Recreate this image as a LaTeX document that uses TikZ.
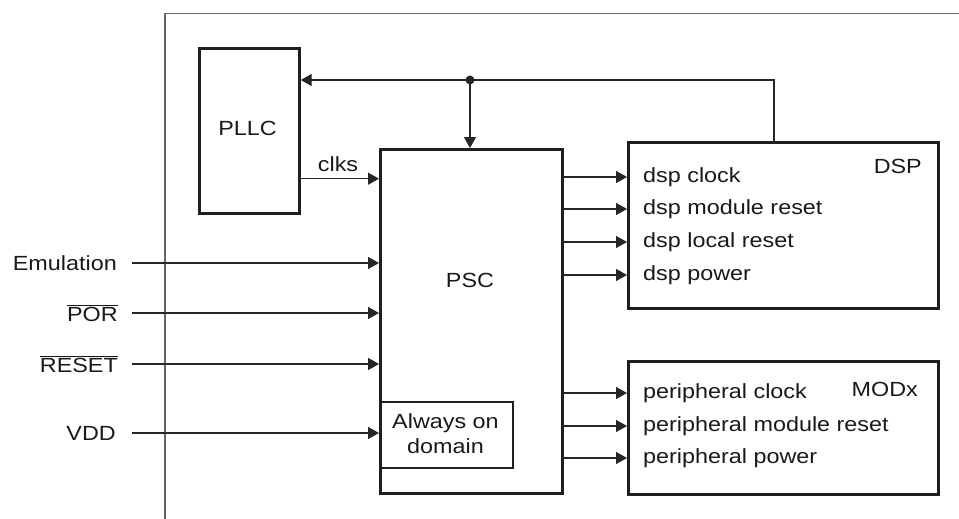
\documentclass[tikz,border=0pt]{standalone}
\usepackage{fontspec}
\setmainfont[FakeStretch=1.14]{Liberation Sans}
\usetikzlibrary{arrows.meta}
\newcommand{\myovl}[1]{$\overline{\hbox{#1}}$}
\begin{document}
\begin{tikzpicture}[x=1pt,y=-1pt,
  box/.style={draw=black!88, line width=3.2pt, anchor=north west, inner sep=0pt},
  thinbox/.style={draw=black!88, line width=2.2pt, anchor=north west, inner sep=0pt},
  lbl/.style={inner sep=0pt, text=black!90, font=\fontsize{20.5}{25}\selectfont},
  wire/.style={draw=black!85, line width=1.4pt},
  arr/.style={wire, -{Triangle[length=11pt,width=12pt]}},
  chip/.style={draw=black!60, line width=1.3pt}]
\useasboundingbox (0,0) rectangle (959,519);
% chip boundary
\coordinate (cbot) at (165,519);
\coordinate (ccorner) at (165,13.5);
\coordinate (cright) at (959,13.5);
\draw[chip] (cbot) -- (ccorner) -- (cright);
% blocks
\node[box, minimum width=100pt, minimum height=165pt] (pllc) at (197.5,46.7) {};
\node[box, minimum width=182pt, minimum height=344pt] (psc) at (379,148) {};
\node[box, minimum width=310pt, minimum height=166pt] (dsp) at (627,141) {};
\node[box, minimum width=310pt, minimum height=133pt] (modx) at (627,360) {};
\node[thinbox, minimum width=133pt, minimum height=66pt] (aod) at (379,401) {};
% block labels
\node[lbl] (pllct) at (247.5,128) {PLLC};
\node[lbl] (psct) at (470,280) {PSC};
\node[lbl, align=center] (aodt) at (445.5,434) {Always on\\domain};
\node[lbl, anchor=east] (dspt) at (922,166) {DSP};
\node[lbl, anchor=east] (modxt) at (918,389) {MODx};
% feedback clock path
\coordinate (fbup) at (774,80);
\coordinate (dot) at (470,80);
\draw[wire] (dsp.north -| fbup) -- (fbup) -- (dot);
\draw[arr] (dot) -- (pllc.east |- dot);
\draw[arr] (dot) -- (psc.north -| dot);
\fill[black!85] (dot) circle (4.5pt);
% clks
\coordinate (clk) at (297.5,178.7);
\draw[arr] (pllc.east |- clk) -- (psc.west |- clk);
\node[lbl] (clkst) at (338,164) {clks};
% inputs
\coordinate (emuS) at (132,263);
\coordinate (porS) at (132,313);
\coordinate (rstS) at (132,364);
\coordinate (vddS) at (132,433);
\draw[arr] (emuS) -- (psc.west |- emuS);
\draw[arr] (porS) -- (psc.west |- porS);
\draw[arr] (rstS) -- (psc.west |- rstS);
\draw[arr] (vddS) -- (psc.west |- vddS);
\node[lbl, anchor=east] (emut) at (117,263) {Emulation};
\node[lbl, anchor=east] (port) at (118,313) {\myovl{POR}};
\node[lbl, anchor=east] (rstt) at (118,364) {\myovl{RESET}};
\node[lbl, anchor=east] (vddt) at (116,433) {VDD};
% DSP outputs
\foreach \yy/\nm/\tx in {177/d1/dsp clock, 209/d2/dsp module reset, 242/d3/dsp local reset, 275/d4/dsp power}{
  \coordinate (\nm) at (600,\yy);
  \draw[arr] (psc.east |- \nm) -- (dsp.west |- \nm);
  \node[lbl, anchor=west] (\nm t) at (643,\yy) {\tx};
}
% MODx outputs
\foreach \yy/\nm/\tx in {393/m1/peripheral clock, 426/m2/peripheral module reset, 458/m3/peripheral power}{
  \coordinate (\nm) at (600,\yy);
  \draw[arr] (psc.east |- \nm) -- (modx.west |- \nm);
  \node[lbl, anchor=west] (\nm t) at (643,\yy) {\tx};
}
\end{tikzpicture}
\end{document}
